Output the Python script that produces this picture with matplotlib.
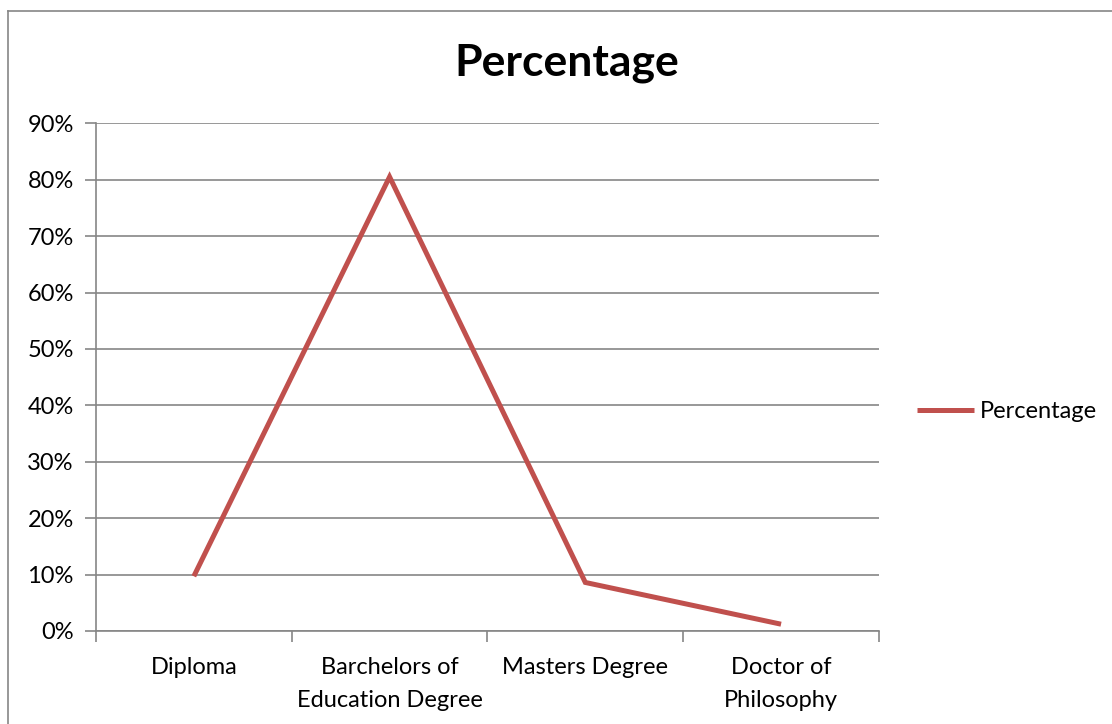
import matplotlib
matplotlib.use("Agg")
import matplotlib.pyplot as plt
from matplotlib.lines import Line2D
from matplotlib.ticker import FixedLocator, PercentFormatter

# Highest qualification held, share of respondents
categories = ["Diploma", "Barchelors of\nEducation Degree", "Masters Degree", "Doctor of\nPhilosophy"]
percentage = [0.097, 0.805, 0.086, 0.012]
yticks = [0.0, 0.1, 0.2, 0.3, 0.4, 0.5, 0.6, 0.7, 0.8, 0.9]

line_color = "#C0504D"
grid_color = "#868686"

plt.rcParams["font.family"] = ["Lato", "DejaVu Sans"]

fig = plt.figure(figsize=(11.12, 7.24), dpi=100)
ax = fig.add_axes([0.0863, 0.1285, 0.7041, 0.7012])

xs = list(range(len(categories)))
ax.plot(xs, percentage, color=line_color, linewidth=3.6, solid_capstyle="butt",
        solid_joinstyle="miter", label="Percentage")

ax.set_xlim(-0.5, len(categories) - 0.5)
ax.set_ylim(0, 0.9)
ax.set_yticks(yticks)
ax.yaxis.set_major_formatter(PercentFormatter(1.0, decimals=0))

# category boundaries carry the tick marks, labels sit in between
ax.xaxis.set_major_locator(FixedLocator([i - 0.5 for i in range(len(categories) + 1)]))
ax.xaxis.set_minor_locator(FixedLocator(xs))
ax.set_xticklabels([""] * (len(categories) + 1))
ax.set_xticklabels(categories, minor=True, fontsize=17, linespacing=1.7)
ax.tick_params(axis="x", which="major", length=8, width=1.2, color=grid_color, direction="out")
ax.tick_params(axis="x", which="minor", length=0, pad=19)
ax.tick_params(axis="y", length=8, width=1.2, color=grid_color, direction="out",
               labelsize=17, pad=8)

ax.grid(axis="y", color=grid_color, linewidth=1.2)
ax.set_axisbelow(True)
for side in ["top", "right"]:
    ax.spines[side].set_visible(False)
for side in ["left", "bottom"]:
    ax.spines[side].set_color(grid_color)
    ax.spines[side].set_linewidth(1.2)

fig.suptitle("Percentage", x=0.51, y=0.94, fontsize=32, fontweight="bold")

leg = ax.legend(loc="center left", bbox_to_anchor=(0.825, 0.431), bbox_transform=fig.transFigure,
                frameon=False, fontsize=17, handlelength=2.4, handletextpad=0.25,
                borderpad=0, borderaxespad=0)

# chart frame, its right and bottom edges run off the page
fig.add_artist(Line2D([0.0072, 0.0072], [0.9848, -0.01], transform=fig.transFigure,
                      color=grid_color, linewidth=1.2))
fig.add_artist(Line2D([0.0072, 1.01], [0.9848, 0.9848], transform=fig.transFigure,
                      color=grid_color, linewidth=1.2))

fig.savefig("out.png", dpi=100)
